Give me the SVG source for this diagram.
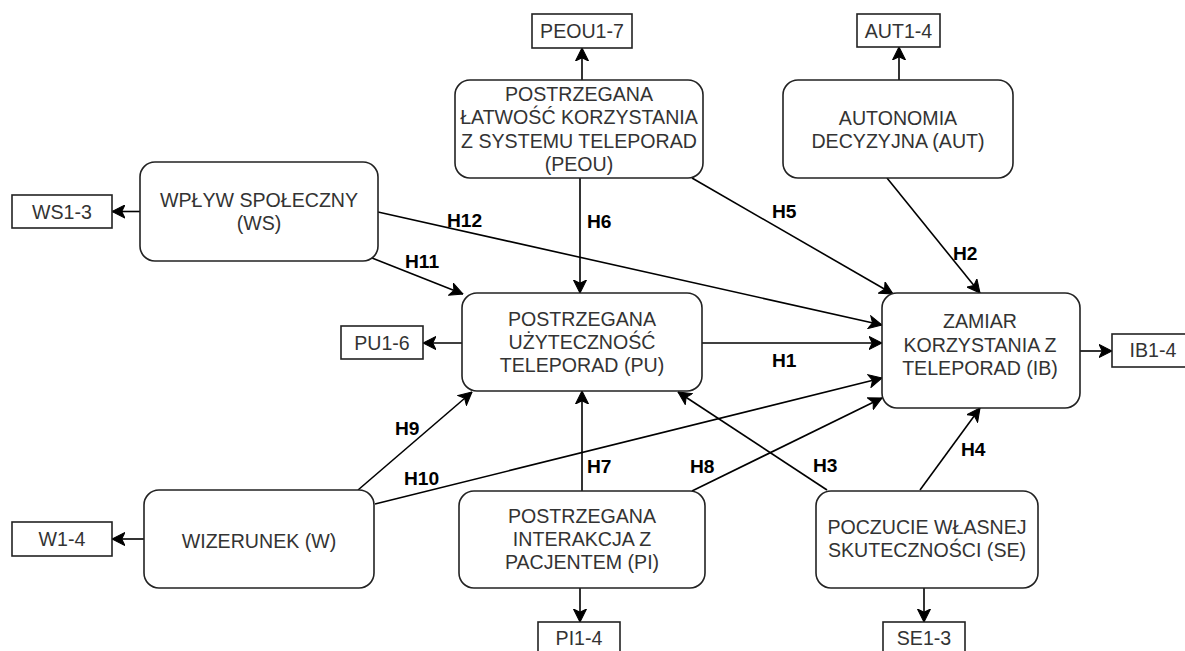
<svg xmlns="http://www.w3.org/2000/svg" width="1185" height="651" viewBox="0 0 1185 651">
<defs>
<marker id="arr" markerUnits="userSpaceOnUse" markerWidth="14" markerHeight="14" viewBox="0 0 13 13" refX="12.5" refY="6.5" orient="auto">
<path d="M0.5,0.5 L12.5,6.5 L0.5,12.5 L3.5,6.5 Z" fill="#000" stroke="#000" stroke-width="1" stroke-linejoin="miter"/>
</marker>
</defs>
<style>
.node{fill:#fff;stroke:#222;stroke-width:1.6}
.box{fill:#fff;stroke:#222;stroke-width:1.6}
.t{font-family:"Liberation Sans",Arial,sans-serif;font-size:19.6px;fill:#333;text-anchor:middle}
.h{font-family:"Liberation Sans",Arial,sans-serif;font-size:19.2px;font-weight:bold;fill:#000}
.e{fill:none;stroke:#000;stroke-width:1.6;marker-end:url(#arr)}
</style>
<rect width="1185" height="651" fill="#fff"/>
<g id="connectors">
<line class="e" x1="140" y1="211.5" x2="112" y2="211.5"/>
<line class="e" x1="582" y1="80" x2="582" y2="48"/>
<line class="e" x1="899" y1="80" x2="899" y2="47"/>
<line class="e" x1="462" y1="343" x2="423" y2="343"/>
<line class="e" x1="1080" y1="351" x2="1112" y2="351"/>
<line class="e" x1="144" y1="539" x2="112" y2="539"/>
<line class="e" x1="580" y1="588" x2="580" y2="622"/>
<line class="e" x1="924" y1="588" x2="924" y2="622"/>
<line class="e" x1="580" y1="178" x2="580" y2="293"/>
<line class="e" x1="378" y1="212" x2="882" y2="325"/>
<line class="e" x1="372" y1="258" x2="463" y2="294"/>
<line class="e" x1="692" y1="178" x2="893" y2="294"/>
<line class="e" x1="887" y1="178" x2="980" y2="293"/>
<line class="e" x1="702" y1="343" x2="882" y2="343"/>
<line class="e" x1="827" y1="490" x2="678" y2="392"/>
<line class="e" x1="920" y1="490" x2="980" y2="408"/>
<line class="e" x1="582" y1="491" x2="582" y2="391"/>
<line class="e" x1="692" y1="491" x2="882" y2="398"/>
<line class="e" x1="358" y1="490" x2="472" y2="392"/>
<line class="e" x1="375" y1="504" x2="882" y2="378"/>
<text class="h" x="447" y="227">H12</text>
<text class="h" x="405" y="268">H11</text>
<text class="h" x="587" y="228">H6</text>
<text class="h" x="772" y="218">H5</text>
<text class="h" x="953" y="260">H2</text>
<text class="h" x="772" y="367">H1</text>
<text class="h" x="395" y="435">H9</text>
<text class="h" x="404" y="485">H10</text>
<text class="h" x="587" y="473">H7</text>
<text class="h" x="690" y="473">H8</text>
<text class="h" x="813" y="472">H3</text>
<text class="h" x="961" y="456">H4</text>
</g>
<g id="WS">
<rect class="node" x="140" y="162" width="238" height="99" rx="15"/>
<text class="t" x="259" y="206.5">WPŁYW SPOŁECZNY</text>
<text class="t" x="259" y="229.5">(WS)</text>
</g>
<g id="WS13">
<rect class="box" x="12" y="195" width="100" height="33"/>
<text class="t" x="62" y="218.5">WS1-3</text>
</g>
<g id="PEOU">
<rect class="node" x="455" y="80" width="248" height="98" rx="15"/>
<text class="t" x="579" y="100.5">POSTRZEGANA</text>
<text class="t" x="579" y="124">ŁATWOŚĆ KORZYSTANIA</text>
<text class="t" x="579" y="147.5">Z SYSTEMU TELEPORAD</text>
<text class="t" x="579" y="171">(PEOU)</text>
</g>
<g id="PEOU17">
<rect class="box" x="532" y="14" width="100" height="34"/>
<text class="t" x="582" y="38">PEOU1-7</text>
</g>
<g id="AUT">
<rect class="node" x="783" y="80" width="230" height="98" rx="15"/>
<text class="t" x="898" y="125">AUTONOMIA</text>
<text class="t" x="898" y="148">DECYZYJNA (AUT)</text>
</g>
<g id="AUT14">
<rect class="box" x="857" y="14" width="83" height="33"/>
<text class="t" x="898.5" y="37.5">AUT1-4</text>
</g>
<g id="PU">
<rect class="node" x="462" y="293" width="240" height="98" rx="15"/>
<text class="t" x="582" y="326">POSTRZEGANA</text>
<text class="t" x="582" y="349">UŻYTECZNOŚĆ</text>
<text class="t" x="582" y="372">TELEPORAD (PU)</text>
</g>
<g id="PU16">
<rect class="box" x="341" y="326" width="82" height="33"/>
<text class="t" x="382" y="350">PU1-6</text>
</g>
<g id="IB">
<rect class="node" x="882" y="293" width="198" height="115" rx="15"/>
<text class="t" x="980" y="328">ZAMIAR</text>
<text class="t" x="980" y="352">KORZYSTANIA Z</text>
<text class="t" x="980" y="375">TELEPORAD (IB)</text>
</g>
<g id="IB14">
<rect class="box" x="1112" y="334" width="83" height="33"/>
<text class="t" x="1153" y="357">IB1-4</text>
</g>
<g id="W">
<rect class="node" x="144" y="490" width="230" height="98" rx="15"/>
<text class="t" x="259" y="548">WIZERUNEK (W)</text>
</g>
<g id="W14">
<rect class="box" x="12" y="522" width="100" height="34"/>
<text class="t" x="62" y="546">W1-4</text>
</g>
<g id="PI">
<rect class="node" x="459" y="491" width="246" height="97" rx="15"/>
<text class="t" x="582" y="523">POSTRZEGANA</text>
<text class="t" x="582" y="546">INTERAKCJA Z</text>
<text class="t" x="582" y="569">PACJENTEM (PI)</text>
</g>
<g id="PI14">
<rect class="box" x="538" y="622" width="82" height="40"/>
<text class="t" x="579" y="645">PI1-4</text>
</g>
<g id="SE">
<rect class="node" x="816" y="491" width="222" height="97" rx="15"/>
<text class="t" x="927" y="534">POCZUCIE WŁASNEJ</text>
<text class="t" x="927" y="557">SKUTECZNOŚCI (SE)</text>
</g>
<g id="SE13">
<rect class="box" x="883" y="622" width="82" height="40"/>
<text class="t" x="924" y="645">SE1-3</text>
</g>
</svg>
